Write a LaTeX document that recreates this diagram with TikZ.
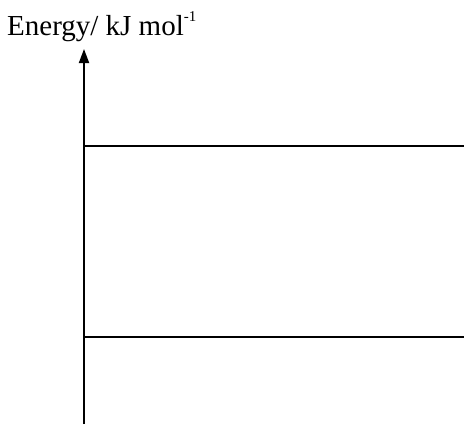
\documentclass[tikz,border=0pt]{standalone}
\usepackage{fontspec}
\setmainfont{Liberation Serif}
\usetikzlibrary{arrows.meta, positioning}

\begin{document}
\begin{tikzpicture}[x=1pt, y=-1pt]
\useasboundingbox (0,0) rectangle (464,426);
% axis
\coordinate (base) at (84,424);
\coordinate (tip) at (84,49);
\draw[line width=1.8pt, -{Triangle[length=14pt, width=10pt]}] (base) -- (tip);
\node[anchor=base west, inner sep=0pt, font=\fontsize{29}{33}\selectfont] (lbl) at (7,35) {Energy/ kJ mol\raisebox{0.45em}{\fontsize{15}{17}\selectfont -1}};
% levels
\coordinate (l1) at (84,146);
\coordinate (r1) at (464,146);
\coordinate (l2) at (84,337);
\coordinate (r2) at (464,337);
\draw[line width=1.8pt] (l1) -- (r1);
\draw[line width=1.8pt] (l2) -- (r2);
\end{tikzpicture}
\end{document}
